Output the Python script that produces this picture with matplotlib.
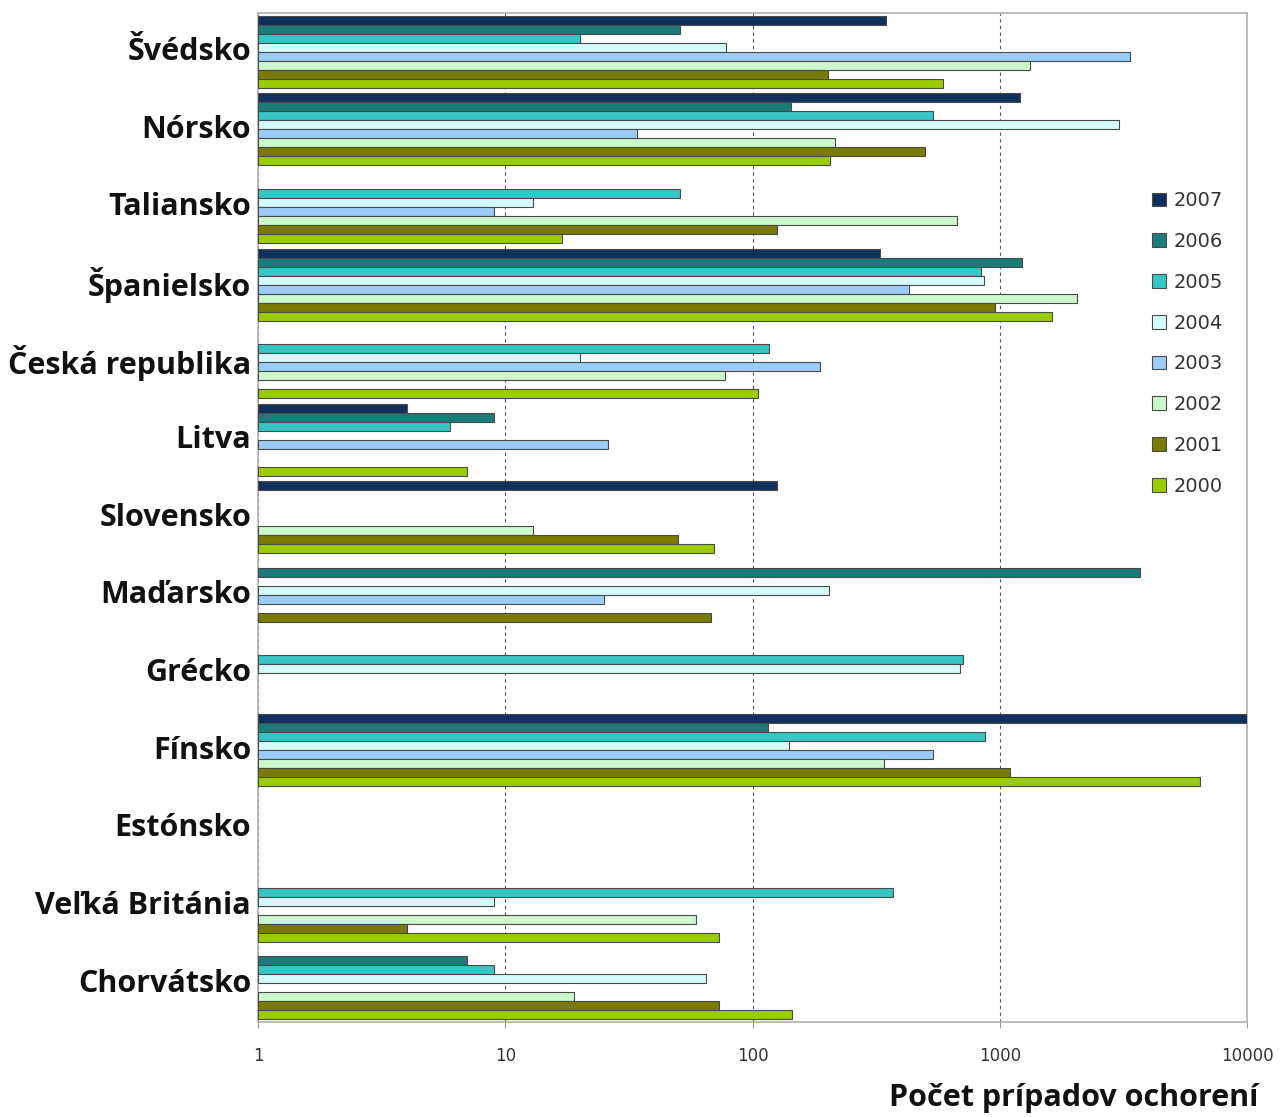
import matplotlib
matplotlib.use('Agg')
import matplotlib.pyplot as plt
import numpy as np

# krajiny zhora nadol
countries = ['Švédsko', 'Nórsko', 'Taliansko', 'Španielsko', 'Česká republika',
             'Litva', 'Slovensko', 'Maďarsko', 'Grécko', 'Fínsko', 'Estónsko',
             'Veľká Británia', 'Chorvátsko']
years = ['2007', '2006', '2005', '2004', '2003', '2002', '2001', '2000']

# pocet pripadov (None = bez udajov)
v2007 = [347, 1208, None, 328, None, 4, 125, None, None, 10000, None, None, None]
v2006 = [51, 143, None, 1230, None, 9, None, 3680, None, 115, None, None, 7]
v2005 = [20, 537, 51, 837, 116, 6, None, None, 709, 867, None, 370, 9]
v2004 = [78, 3020, 13, 862, 20, None, None, 204, 691, 141, None, 9, 65]
v2003 = [3365, 34, 9, 430, 187, 26, None, 25, None, 537, None, None, None]
v2002 = [1325, 216, 671, 2042, 77, None, 13, None, None, 339, None, 59, 19]
v2001 = [201, 496, 125, 953, None, None, 50, 68, None, 1100, None, 4, 73]
v2000 = [590, 206, 17, 1620, 105, 7, 70, None, None, 6455, None, 73, 144]

series = [v2007, v2006, v2005, v2004, v2003, v2002, v2001, v2000]
colors = ['#10305e', '#1a7b78', '#36c6c6', '#d4fbfb', '#9cccf8', '#cdf8cd', '#7a7a00', '#9acc00']

fig = plt.figure(figsize=(12.88, 11.17), dpi=100)
ax = fig.add_axes([0.2003, 0.085, 0.768, 0.9035])

n = len(countries)
slot = 0.116
for j, vals in enumerate(series):
    ys = []
    ws = []
    for i, v in enumerate(vals):
        if v is None:
            continue
        ys.append(i - 4 * slot + (j + 0.5) * slot)
        ws.append(v - 1)  # log os zacina na 1
    ax.barh(ys, ws, height=slot, left=1, color=colors[j], edgecolor='#4a4a4a',
            linewidth=0.8, label=years[j], zorder=3)

ax.set_xscale('log')
ax.set_xlim(1, 10000)
ax.set_ylim(n - 0.5, -0.5)

ax.set_xticks([1, 10, 100, 1000, 10000])
ax.set_xticklabels(['1', '10', '100', '1000', '10000'], fontsize=12,
                   family='Liberation Sans Narrow', color='#333333')
ax.xaxis.set_minor_locator(matplotlib.ticker.NullLocator())
ax.tick_params(axis='x', length=4, color='#999999', pad=14)

ax.set_yticks(np.arange(n) - 0.04)
ax.set_yticklabels(countries, fontsize=22, fontweight='bold', family='Open Sans', color='#111111')
ax.tick_params(axis='y', length=0, pad=5)

ax.grid(axis='x', which='major', linestyle=(0, (3, 3)), color='#555555', linewidth=0.8, zorder=0)
for s in ax.spines.values():
    s.set_color('#b0b0b0')
    s.set_linewidth(1.2)

leg = ax.legend(loc='upper left', bbox_to_anchor=(0.896, 0.831), frameon=False,
                handlelength=0.7, handleheight=0.7, labelspacing=1.12,
                handletextpad=0.4, borderaxespad=0,
                prop={'family': 'Liberation Sans Narrow', 'size': 14})
for t in leg.get_texts():
    t.set_color('#333333')

fig.text(0.977, 0.004, 'Počet prípadov ochorení', ha='right', va='bottom',
         fontsize=22, fontweight='bold', family='Open Sans', color='#111111')

fig.savefig('out.png', dpi=100)
